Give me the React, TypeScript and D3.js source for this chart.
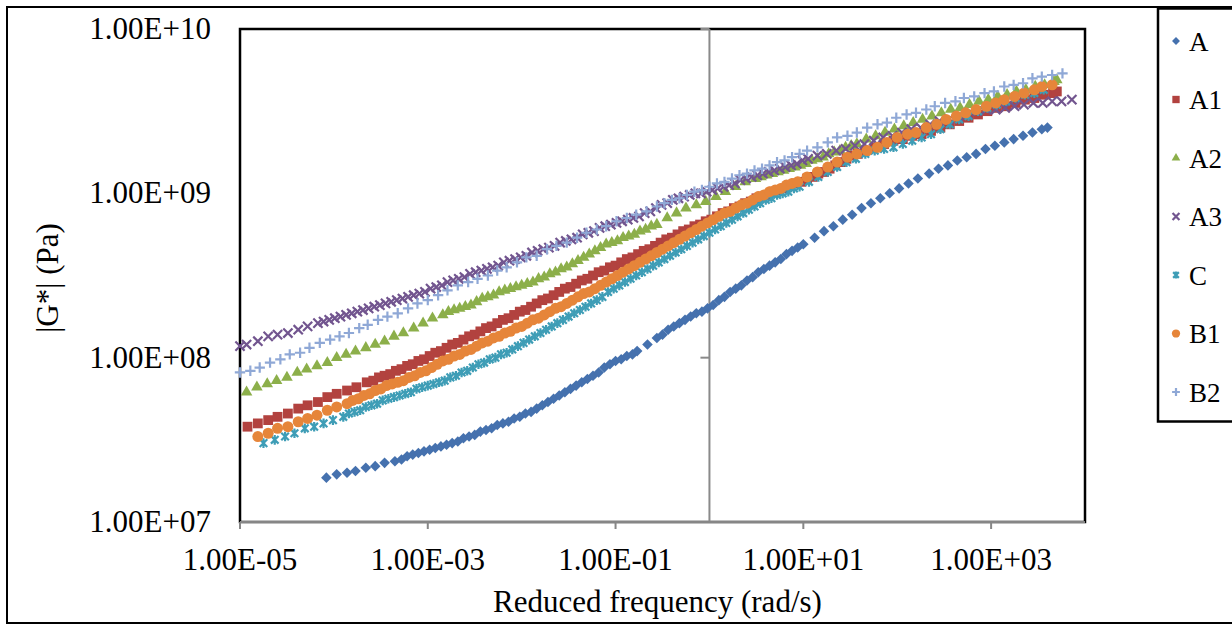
import React from "react";
import * as d3 from "d3";

// Each point: [log10 reduced frequency (rad/s), log10 |G*| (Pa)]
const seriesA: [number, number][] = [[-4.08,7.27],[-3.97,7.29],[-3.86,7.30],[-3.77,7.31],[-3.66,7.33],[-3.56,7.34],[-3.46,7.36],[-3.35,7.37],[-3.28,7.38],[-3.22,7.40],[-3.16,7.41],[-3.10,7.42],[-3.04,7.43],[-2.98,7.44],[-2.92,7.45],[-2.86,7.46],[-2.80,7.47],[-2.74,7.48],[-2.68,7.49],[-2.62,7.51],[-2.56,7.52],[-2.50,7.53],[-2.44,7.55],[-2.38,7.56],[-2.32,7.57],[-2.26,7.59],[-2.20,7.60],[-2.14,7.61],[-2.08,7.63],[-2.02,7.64],[-1.96,7.66],[-1.90,7.67],[-1.84,7.69],[-1.78,7.71],[-1.72,7.73],[-1.66,7.75],[-1.60,7.77],[-1.54,7.79],[-1.48,7.81],[-1.42,7.83],[-1.36,7.85],[-1.30,7.87],[-1.24,7.89],[-1.18,7.91],[-1.12,7.94],[-1.06,7.96],[-1.00,7.98],[-0.94,7.99],[-0.88,8.01],[-0.82,8.02],[-0.77,8.04],[-0.66,8.08],[-0.56,8.12],[-0.50,8.14],[-0.44,8.17],[-0.38,8.19],[-0.32,8.21],[-0.26,8.23],[-0.20,8.25],[-0.14,8.27],[-0.08,8.28],[-0.02,8.30],[0.04,8.32],[0.10,8.35],[0.16,8.37],[0.22,8.40],[0.28,8.42],[0.34,8.44],[0.40,8.47],[0.46,8.49],[0.52,8.52],[0.58,8.54],[0.64,8.56],[0.70,8.58],[0.76,8.60],[0.82,8.63],[0.88,8.65],[0.94,8.67],[1.00,8.69],[1.12,8.73],[1.22,8.77],[1.32,8.80],[1.42,8.84],[1.52,8.87],[1.62,8.91],[1.72,8.94],[1.82,8.97],[1.92,9.00],[2.02,9.03],[2.12,9.06],[2.22,9.09],[2.34,9.12],[2.44,9.15],[2.54,9.17],[2.64,9.20],[2.74,9.22],[2.84,9.24],[2.94,9.27],[3.04,9.29],[3.14,9.31],[3.24,9.33],[3.34,9.35],[3.44,9.37],[3.54,9.39],[3.60,9.40]];

const seriesA1: [number, number][] = [[-4.92,7.58],[-4.81,7.60],[-4.70,7.62],[-4.60,7.64],[-4.49,7.66],[-4.38,7.69],[-4.28,7.71],[-4.17,7.73],[-4.07,7.76],[-3.97,7.78],[-3.86,7.80],[-3.76,7.82],[-3.65,7.85],[-3.58,7.86],[-3.52,7.88],[-3.46,7.89],[-3.40,7.90],[-3.34,7.92],[-3.28,7.93],[-3.22,7.95],[-3.16,7.96],[-3.10,7.98],[-3.04,7.99],[-2.98,8.01],[-2.92,8.03],[-2.86,8.04],[-2.80,8.06],[-2.74,8.08],[-2.68,8.09],[-2.62,8.11],[-2.56,8.13],[-2.50,8.14],[-2.44,8.16],[-2.38,8.18],[-2.32,8.19],[-2.26,8.21],[-2.20,8.23],[-2.14,8.24],[-2.08,8.26],[-2.02,8.28],[-1.96,8.29],[-1.90,8.31],[-1.84,8.33],[-1.78,8.35],[-1.72,8.36],[-1.66,8.38],[-1.60,8.40],[-1.54,8.42],[-1.48,8.43],[-1.42,8.45],[-1.36,8.47],[-1.30,8.48],[-1.24,8.50],[-1.18,8.52],[-1.12,8.53],[-1.06,8.55],[-1.00,8.56],[-0.94,8.58],[-0.88,8.60],[-0.82,8.61],[-0.76,8.63],[-0.70,8.65],[-0.64,8.66],[-0.58,8.68],[-0.52,8.70],[-0.46,8.72],[-0.40,8.73],[-0.34,8.75],[-0.28,8.77],[-0.22,8.78],[-0.16,8.80],[-0.10,8.81],[-0.04,8.83],[0.02,8.84],[0.08,8.86],[0.14,8.88],[0.20,8.89],[0.26,8.91],[0.32,8.92],[0.38,8.94],[0.44,8.95],[0.50,8.97],[0.56,8.98],[0.62,8.99],[0.68,9.01],[0.74,9.02],[0.80,9.03],[0.86,9.05],[0.92,9.06],[0.98,9.07],[1.04,9.09],[1.10,9.10],[1.16,9.12],[1.22,9.13],[1.28,9.15],[1.34,9.17],[1.40,9.19],[1.46,9.21],[1.52,9.23],[1.58,9.24],[1.66,9.26],[1.76,9.28],[1.86,9.30],[1.96,9.32],[2.06,9.33],[2.16,9.35],[2.26,9.36],[2.36,9.38],[2.46,9.40],[2.56,9.42],[2.66,9.44],[2.76,9.46],[2.86,9.48],[2.96,9.50],[3.06,9.52],[3.16,9.53],[3.26,9.55],[3.36,9.57],[3.46,9.58],[3.56,9.60],[3.66,9.61],[3.70,9.62]];

const seriesA2: [number, number][] = [[-4.93,7.79],[-4.82,7.82],[-4.71,7.84],[-4.61,7.86],[-4.50,7.88],[-4.39,7.91],[-4.29,7.93],[-4.18,7.95],[-4.07,7.97],[-3.97,8.00],[-3.87,8.02],[-3.77,8.04],[-3.66,8.06],[-3.56,8.08],[-3.46,8.10],[-3.36,8.13],[-3.26,8.15],[-3.15,8.18],[-3.05,8.21],[-2.95,8.24],[-2.84,8.26],[-2.78,8.28],[-2.72,8.29],[-2.66,8.30],[-2.60,8.31],[-2.54,8.32],[-2.48,8.34],[-2.42,8.36],[-2.36,8.37],[-2.30,8.38],[-2.24,8.40],[-2.18,8.41],[-2.12,8.42],[-2.06,8.43],[-2.00,8.44],[-1.94,8.45],[-1.88,8.46],[-1.82,8.48],[-1.76,8.49],[-1.70,8.51],[-1.64,8.52],[-1.58,8.54],[-1.52,8.55],[-1.46,8.57],[-1.40,8.59],[-1.34,8.61],[-1.28,8.63],[-1.22,8.65],[-1.16,8.67],[-1.10,8.69],[-1.04,8.70],[-0.98,8.71],[-0.92,8.73],[-0.86,8.74],[-0.80,8.75],[-0.74,8.77],[-0.68,8.78],[-0.62,8.80],[-0.56,8.81],[-0.45,8.85],[-0.35,8.88],[-0.25,8.91],[-0.14,8.93],[-0.04,8.95],[0.07,8.98],[0.17,9.01],[0.28,9.04],[0.38,9.07],[0.49,9.09],[0.55,9.10],[0.61,9.11],[0.67,9.12],[0.73,9.13],[0.79,9.14],[0.85,9.15],[0.91,9.16],[0.97,9.17],[1.03,9.18],[1.09,9.20],[1.15,9.21],[1.21,9.22],[1.27,9.24],[1.33,9.25],[1.39,9.26],[1.45,9.28],[1.51,9.29],[1.57,9.30],[1.67,9.33],[1.77,9.35],[1.87,9.37],[1.97,9.39],[2.07,9.41],[2.17,9.43],[2.27,9.45],[2.37,9.47],[2.47,9.49],[2.57,9.51],[2.67,9.52],[2.77,9.54],[2.87,9.56],[2.97,9.57],[3.07,9.59],[3.17,9.60],[3.27,9.62],[3.37,9.63],[3.47,9.65],[3.57,9.66],[3.67,9.68],[3.70,9.69]];

const seriesA3: [number, number][] = [[-5.00,8.07],[-4.93,8.08],[-4.81,8.10],[-4.70,8.13],[-4.60,8.14],[-4.49,8.15],[-4.38,8.17],[-4.28,8.19],[-4.17,8.21],[-4.11,8.22],[-4.05,8.23],[-3.99,8.24],[-3.93,8.25],[-3.87,8.26],[-3.81,8.27],[-3.75,8.28],[-3.69,8.29],[-3.63,8.30],[-3.57,8.31],[-3.51,8.32],[-3.45,8.33],[-3.39,8.34],[-3.33,8.35],[-3.27,8.36],[-3.21,8.37],[-3.15,8.38],[-3.09,8.39],[-3.03,8.40],[-2.97,8.42],[-2.91,8.43],[-2.85,8.44],[-2.79,8.46],[-2.73,8.47],[-2.67,8.48],[-2.61,8.49],[-2.55,8.51],[-2.49,8.52],[-2.43,8.53],[-2.37,8.54],[-2.31,8.55],[-2.25,8.56],[-2.19,8.58],[-2.13,8.59],[-2.07,8.60],[-2.01,8.61],[-1.95,8.62],[-1.89,8.64],[-1.83,8.65],[-1.77,8.66],[-1.71,8.67],[-1.65,8.68],[-1.59,8.70],[-1.53,8.71],[-1.47,8.72],[-1.41,8.73],[-1.35,8.75],[-1.29,8.76],[-1.23,8.77],[-1.17,8.79],[-1.11,8.80],[-1.05,8.81],[-0.99,8.82],[-0.93,8.83],[-0.87,8.84],[-0.81,8.85],[-0.75,8.86],[-0.69,8.88],[-0.63,8.89],[-0.57,8.91],[-0.51,8.93],[-0.45,8.94],[-0.39,8.96],[-0.33,8.97],[-0.27,8.98],[-0.21,8.99],[-0.15,9.00],[-0.09,9.00],[-0.03,9.01],[0.03,9.02],[0.09,9.03],[0.15,9.04],[0.21,9.05],[0.27,9.06],[0.33,9.08],[0.39,9.09],[0.45,9.10],[0.51,9.11],[0.57,9.12],[0.63,9.13],[0.69,9.14],[0.75,9.15],[0.81,9.16],[0.87,9.17],[0.93,9.18],[0.99,9.20],[1.05,9.21],[1.15,9.23],[1.25,9.24],[1.35,9.26],[1.45,9.27],[1.55,9.29],[1.65,9.30],[1.75,9.32],[1.85,9.34],[1.95,9.35],[2.05,9.37],[2.15,9.39],[2.25,9.40],[2.35,9.42],[2.45,9.44],[2.55,9.45],[2.65,9.47],[2.75,9.48],[2.85,9.50],[2.95,9.51],[3.05,9.51],[3.15,9.52],[3.25,9.53],[3.35,9.54],[3.45,9.55],[3.55,9.55],[3.65,9.56],[3.75,9.56],[3.86,9.57]];

const seriesC: [number, number][] = [[-4.75,7.48],[-4.63,7.50],[-4.52,7.52],[-4.42,7.54],[-4.31,7.57],[-4.21,7.58],[-4.11,7.60],[-4.01,7.62],[-3.90,7.64],[-3.84,7.66],[-3.78,7.67],[-3.72,7.68],[-3.66,7.70],[-3.60,7.71],[-3.54,7.72],[-3.48,7.74],[-3.42,7.75],[-3.36,7.76],[-3.30,7.77],[-3.24,7.78],[-3.18,7.79],[-3.12,7.81],[-3.06,7.82],[-3.00,7.83],[-2.94,7.84],[-2.88,7.85],[-2.82,7.86],[-2.76,7.88],[-2.70,7.89],[-2.64,7.91],[-2.58,7.92],[-2.52,7.94],[-2.46,7.96],[-2.40,7.97],[-2.34,7.99],[-2.28,8.00],[-2.22,8.02],[-2.16,8.03],[-2.10,8.05],[-2.04,8.07],[-1.98,8.09],[-1.92,8.11],[-1.86,8.13],[-1.80,8.15],[-1.74,8.17],[-1.68,8.19],[-1.62,8.21],[-1.56,8.23],[-1.50,8.25],[-1.44,8.27],[-1.38,8.29],[-1.32,8.31],[-1.26,8.33],[-1.20,8.35],[-1.14,8.37],[-1.08,8.40],[-1.02,8.42],[-0.96,8.44],[-0.90,8.46],[-0.84,8.48],[-0.78,8.50],[-0.72,8.52],[-0.66,8.54],[-0.60,8.56],[-0.54,8.58],[-0.48,8.60],[-0.42,8.62],[-0.36,8.64],[-0.30,8.66],[-0.24,8.68],[-0.18,8.70],[-0.12,8.72],[-0.06,8.74],[0.00,8.76],[0.06,8.78],[0.12,8.80],[0.18,8.82],[0.24,8.84],[0.30,8.86],[0.36,8.88],[0.42,8.90],[0.48,8.92],[0.54,8.94],[0.60,8.96],[0.66,8.97],[0.72,8.99],[0.78,9.00],[0.84,9.01],[0.90,9.03],[0.96,9.04],[1.06,9.07],[1.16,9.10],[1.26,9.13],[1.36,9.16],[1.46,9.19],[1.56,9.21],[1.66,9.24],[1.76,9.26],[1.86,9.27],[1.96,9.28],[2.06,9.30],[2.16,9.32],[2.26,9.34],[2.36,9.36],[2.46,9.39],[2.56,9.42],[2.66,9.45],[2.76,9.47],[2.86,9.50],[2.96,9.52],[3.06,9.54],[3.16,9.56],[3.26,9.58],[3.36,9.60],[3.46,9.61],[3.56,9.63]];

const seriesB1: [number, number][] = [[-4.81,7.52],[-4.70,7.54],[-4.60,7.57],[-4.49,7.58],[-4.38,7.61],[-4.28,7.63],[-4.18,7.65],[-4.07,7.68],[-3.97,7.70],[-3.86,7.72],[-3.80,7.74],[-3.74,7.75],[-3.68,7.77],[-3.62,7.78],[-3.56,7.80],[-3.50,7.81],[-3.44,7.83],[-3.38,7.84],[-3.32,7.85],[-3.26,7.86],[-3.20,7.88],[-3.14,7.89],[-3.08,7.91],[-3.02,7.92],[-2.96,7.94],[-2.90,7.96],[-2.84,7.98],[-2.78,7.99],[-2.72,8.01],[-2.66,8.02],[-2.60,8.04],[-2.54,8.05],[-2.48,8.07],[-2.42,8.09],[-2.36,8.10],[-2.30,8.12],[-2.24,8.13],[-2.18,8.15],[-2.12,8.16],[-2.06,8.18],[-2.00,8.19],[-1.94,8.21],[-1.88,8.23],[-1.82,8.24],[-1.76,8.26],[-1.70,8.28],[-1.64,8.30],[-1.58,8.31],[-1.52,8.33],[-1.46,8.35],[-1.40,8.37],[-1.34,8.39],[-1.28,8.40],[-1.22,8.42],[-1.16,8.44],[-1.10,8.46],[-1.04,8.48],[-0.98,8.50],[-0.92,8.52],[-0.86,8.54],[-0.80,8.56],[-0.74,8.58],[-0.68,8.60],[-0.62,8.62],[-0.56,8.64],[-0.50,8.66],[-0.44,8.68],[-0.38,8.70],[-0.32,8.72],[-0.26,8.74],[-0.20,8.76],[-0.14,8.78],[-0.08,8.80],[-0.02,8.82],[0.04,8.84],[0.10,8.86],[0.16,8.88],[0.22,8.89],[0.28,8.91],[0.34,8.93],[0.40,8.94],[0.46,8.96],[0.52,8.98],[0.58,8.99],[0.64,9.01],[0.70,9.02],[0.76,9.03],[0.82,9.05],[0.88,9.06],[0.94,9.07],[1.04,9.10],[1.15,9.13],[1.26,9.16],[1.36,9.19],[1.47,9.22],[1.57,9.24],[1.68,9.26],[1.79,9.28],[1.89,9.31],[2.00,9.34],[2.11,9.36],[2.20,9.37],[2.31,9.40],[2.42,9.42],[2.52,9.45],[2.63,9.47],[2.73,9.49],[2.84,9.51],[2.95,9.53],[3.05,9.55],[3.14,9.57],[3.25,9.59],[3.35,9.61],[3.46,9.63],[3.54,9.65],[3.65,9.66]];

const seriesB2: [number, number][] = [[-5.00,7.91],[-4.89,7.92],[-4.79,7.94],[-4.68,7.97],[-4.57,7.99],[-4.47,8.02],[-4.36,8.03],[-4.26,8.06],[-4.15,8.09],[-4.04,8.11],[-3.94,8.13],[-3.84,8.15],[-3.73,8.18],[-3.64,8.20],[-3.53,8.23],[-3.43,8.25],[-3.32,8.27],[-3.21,8.30],[-3.11,8.33],[-3.00,8.35],[-2.89,8.38],[-2.79,8.41],[-2.68,8.44],[-2.57,8.46],[-2.47,8.48],[-2.36,8.50],[-2.26,8.53],[-2.16,8.55],[-2.05,8.58],[-1.95,8.61],[-1.84,8.62],[-1.73,8.66],[-1.63,8.68],[-1.52,8.70],[-1.41,8.73],[-1.31,8.76],[-1.20,8.78],[-1.10,8.80],[-0.99,8.83],[-0.88,8.85],[-0.78,8.87],[-0.67,8.89],[-0.56,8.92],[-0.48,8.94],[-0.40,8.96],[-0.32,8.97],[-0.24,8.99],[-0.16,9.01],[-0.08,9.02],[0.00,9.04],[0.08,9.06],[0.16,9.07],[0.24,9.09],[0.32,9.11],[0.40,9.12],[0.48,9.14],[0.56,9.15],[0.64,9.17],[0.72,9.19],[0.80,9.20],[0.88,9.22],[0.96,9.24],[1.04,9.26],[1.15,9.28],[1.26,9.31],[1.36,9.34],[1.47,9.35],[1.57,9.37],[1.68,9.40],[1.79,9.42],[1.89,9.43],[1.99,9.46],[2.10,9.48],[2.20,9.49],[2.31,9.51],[2.40,9.53],[2.51,9.55],[2.62,9.56],[2.71,9.58],[2.82,9.59],[2.93,9.61],[3.03,9.62],[3.14,9.65],[3.24,9.66],[3.34,9.67],[3.44,9.70],[3.54,9.71],[3.65,9.72],[3.76,9.73]];

const seriesNames = ["A", "A1", "A2", "A3", "C", "B1", "B2"];
const seriesData = [seriesA, seriesA1, seriesA2, seriesA3, seriesC, seriesB1, seriesB2];
const seriesColors = ["#4571AE", "#B2423F", "#8CAF4A", "#72558F", "#3E9DB6", "#E6853A", "#8FA8D6"];
const seriesMarkers = ["diamond", "square", "triangle", "x", "star", "circle", "plus"];

const xTicks = [1e-5, 1e-3, 1e-1, 1e1, 1e3];
const xTickLabels = ["1.00E-05", "1.00E-03", "1.00E-01", "1.00E+01", "1.00E+03"];
const yTicks = [1e7, 1e8, 1e9, 1e10];
const yTickLabels = ["1.00E+07", "1.00E+08", "1.00E+09", "1.00E+10"];

const W = 1232, H = 624;
const plot = { left: 240, right: 1085, top: 29, bottom: 522 };
const FONT = "'Liberation Serif', 'Times New Roman', serif";

const x = d3.scaleLog().domain([1e-5, 1e4]).range([plot.left, plot.right]);
const y = d3.scaleLog().domain([1e7, 1e10]).range([plot.bottom, plot.top]);

function Marker({ kind, color, cx, cy, s = 1 }: { kind: string; color: string; cx: number; cy: number; s?: number }) {
  const t = `translate(${cx},${cy})`;
  if (kind === "diamond") {
    return <path transform={`${t} rotate(45)`} d={d3.symbol(d3.symbolSquare, 56 * s * s)() as string} fill={color} />;
  }
  if (kind === "square") {
    return <path transform={t} d={d3.symbol(d3.symbolSquare, 96 * s * s)() as string} fill={color} />;
  }
  if (kind === "triangle") {
    return <path transform={t} d={d3.symbol(d3.symbolTriangle, 58 * s * s)() as string} fill={color} />;
  }
  if (kind === "circle") {
    return <path transform={t} d={d3.symbol(d3.symbolCircle, 95 * s * s)() as string} fill={color} />;
  }
  if (kind === "x") {
    const r = 4.6 * s;
    return <path transform={t} d={`M${-r},${-r}L${r},${r}M${-r},${r}L${r},${-r}`} stroke={color} strokeWidth={2.2} fill="none" />;
  }
  if (kind === "star") {
    const a = 3.8 * s;
    const v = 4.8 * s;
    return (
      <path transform={t} d={`M${-a},${-a}L${a},${a}M${-a},${a}L${a},${-a}M0,${-v}L0,${v}`}
        stroke={color} strokeWidth={2.2} fill="none" />
    );
  }
  const p = 5.2 * s;
  return <path transform={t} d={`M${-p},0L${p},0M0,${-p}L0,${p}`} stroke={color} strokeWidth={2.2} fill="none" />;
}

export default function App() {
  const yAxisX = x(1);
  return (
    <svg width={W} height={H} style={{ position: "absolute", left: 0, top: 0, background: "#fff" }} fontFamily={FONT}>
      <rect x={0} y={0} width={W} height={H} fill="#fff" />
      {/* outer chart border */}
      <rect x={7} y={7} width={W + 20} height={H - 8} fill="none" stroke="#000" strokeWidth={2} />

      {/* plot area border */}
      <rect x={plot.left} y={plot.top} width={plot.right - plot.left} height={plot.bottom - plot.top} fill="none" stroke="#000" strokeWidth={2.5} />

      {/* vertical axis at x = 1 */}
      <line x1={yAxisX} x2={yAxisX} y1={plot.top} y2={plot.bottom} stroke="#8a8a8a" strokeWidth={2} />
      {yTicks.map((t) => (
        <line key={"yt" + t} x1={yAxisX - 9} x2={yAxisX} y1={y(t)} y2={y(t)} stroke="#8a8a8a" strokeWidth={2} />
      ))}

      {/* x axis */}
      <line x1={plot.left} x2={plot.right} y1={plot.bottom} y2={plot.bottom} stroke="#868686" strokeWidth={2} />
      {xTicks.map((t) => (
        <line key={"xt" + t} x1={x(t)} x2={x(t)} y1={plot.bottom} y2={plot.bottom + 7} stroke="#868686" strokeWidth={2} />
      ))}

      {/* series */}
      {seriesData.map((pts, i) => (
        <g key={seriesNames[i]}>
          {pts.map(([lf, lg], j) => (
            <Marker key={j} kind={seriesMarkers[i]} color={seriesColors[i]} cx={x(Math.pow(10, lf))} cy={y(Math.pow(10, lg))} />
          ))}
        </g>
      ))}

      {/* tick labels */}
      {xTicks.map((t, i) => (
        <text key={"xl" + t} x={x(t)} y={570} fontSize={31} textAnchor="middle" fill="#000">{xTickLabels[i]}</text>
      ))}
      {yTicks.map((t, i) => (
        <text key={"yl" + t} x={211} y={y(t) + 10} fontSize={31} textAnchor="end" fill="#000">{yTickLabels[i]}</text>
      ))}

      {/* axis titles */}
      <text x={(plot.left + plot.right) / 2 - 5} y={612} fontSize={31} textAnchor="middle" fill="#000">Reduced frequency (rad/s)</text>
      <text transform={`translate(58,278) rotate(-90)`} fontSize={31} textAnchor="middle" fill="#000">|G*| (Pa)</text>

      {/* legend */}
      <rect x={1158} y={8.5} width={120} height={413} fill="#fff" stroke="#000" strokeWidth={2.5} />
      {seriesNames.map((name, i) => {
        const cy = 41 + i * 58.5;
        return (
          <g key={"lg" + name}>
            <Marker kind={seriesMarkers[i]} color={seriesColors[i]} cx={1176} cy={cy} s={0.75} />
            <text x={1189} y={cy + 9.5} fontSize={27} fill="#000">{name}</text>
          </g>
        );
      })}
    </svg>
  );
}
